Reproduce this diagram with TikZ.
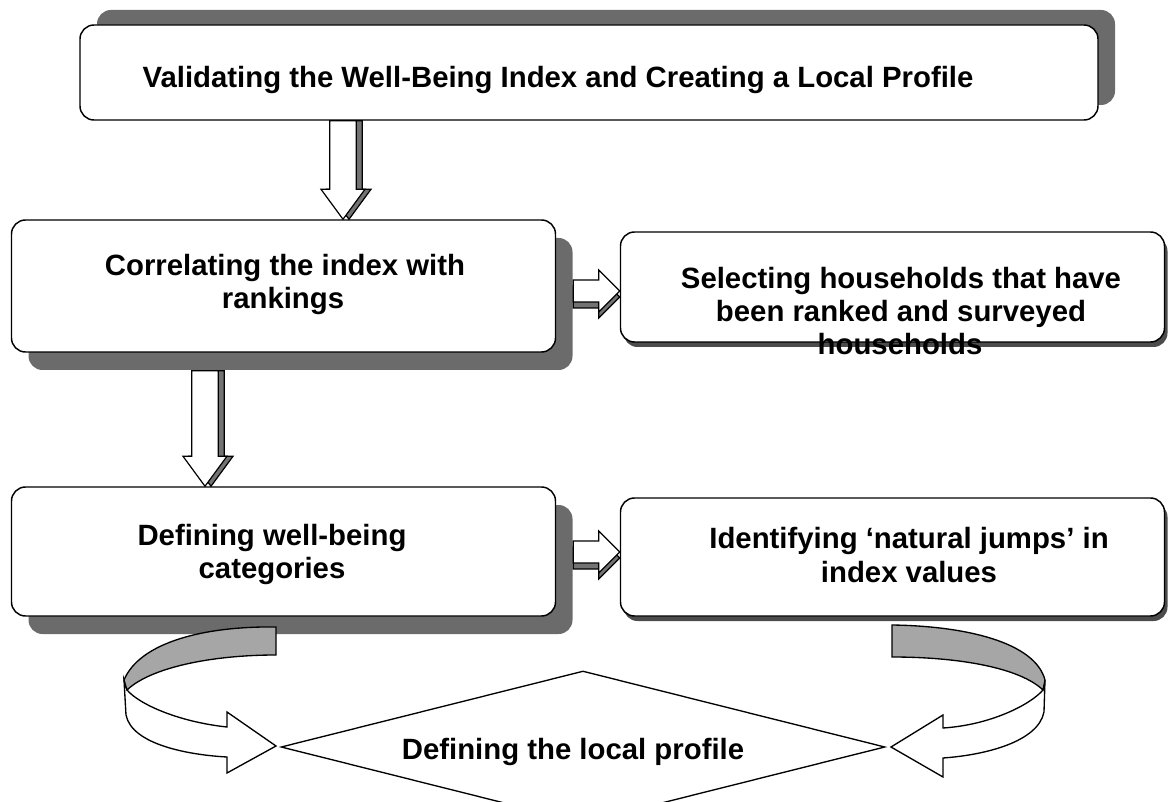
\documentclass[tikz,border=0pt]{standalone}
\usepackage{fontspec}
\setmainfont{Liberation Sans}
\usetikzlibrary{calc,shapes.geometric,shadows}

% vertical block arrow: #1 start, #2 tip, #3 x offset, #4 path options
\newcommand\vpoly[4]{%
  \path[#4] let \p1=#1, \p2=#2 in
    (\x1-10pt+#3,\y1) -- (\x1-10pt+#3,\y2+22.5pt) -- (\x1-16.5pt+#3,\y2+22.5pt)
    -- (\x1+#3,\y2) -- (\x1+16.5pt+#3,\y2+22.5pt) -- (\x1+10pt+#3,\y2+22.5pt)
    -- (\x1+10pt+#3,\y1) -- cycle;}
% horizontal block arrow: #1 start, #2 tip, #3 y offset, #4 path options
\newcommand\hpoly[4]{%
  \path[#4] let \p1=#1, \p2=#2 in
    ({\x1},{\y1+8.25pt+(#3)}) -- ({\x2-15.75pt},{\y1+8.25pt+(#3)})
    -- ({\x2-15.75pt},{\y1+15.75pt+(#3)}) -- ({\x2},{\y1+(#3)})
    -- ({\x2-15.75pt},{\y1-15.75pt+(#3)}) -- ({\x2-15.75pt},{\y1-8.25pt+(#3)})
    -- ({\x1},{\y1-8.25pt+(#3)}) -- cycle;}

\tikzset{
  box/.style={draw=black, line width=1.1pt, rounded corners=10.5pt, fill=white,
    inner sep=0pt, minimum width=408pt},
  bigshadow/.style={drop shadow={shadow xshift=12.75pt, shadow yshift=-13.5pt,
    fill=black!58, opacity=1}},
  thinshadow/.style={drop shadow={shadow xshift=2.25pt, shadow yshift=-3.75pt,
    fill=black!70, opacity=1}},
  txt/.style={font=\fontsize{22}{26}\selectfont\bfseries, inner sep=0pt, anchor=base},
  arrowbody/.style={draw=black, line width=0.9pt, fill=white, line join=miter},
  arrowside/.style={draw=black, line width=0.9pt, fill=black!55},
  ribbon/.style={draw=black, line width=1pt, fill=white},
  ribbonback/.style={draw=black, line width=1pt, fill=black!35},
}

\begin{document}
\begin{tikzpicture}[x=0.75pt,y=-0.75pt]
\useasboundingbox (0,0) rectangle (1168,802);
\clip (0,0) rectangle (1168,802);

% process boxes
\node[box, minimum width=763.5pt, minimum height=71.25pt,
  drop shadow={shadow xshift=12.75pt, shadow yshift=11.25pt, fill=black!58, opacity=1}]
  (valid) at (589,72.5) {};
\node[box, bigshadow, minimum height=99pt] (corr) at (283.5,286) {};
\node[box, thinshadow, minimum height=82.5pt] (select) at (892.5,287) {};
\node[box, bigshadow, minimum height=96.75pt] (cats) at (283.5,551.5) {};
\node[box, thinshadow, minimum height=88.5pt] (jumps) at (892.5,557) {};

% final step
\node[draw=black, line width=1pt, diamond, inner sep=0pt,
  minimum width=453pt, minimum height=114pt] (profile) at (583,747) {};

% positions of the block arrows
\coordinate (a1) at (343,0);
\coordinate (a3) at (205,0);
\coordinate (a2) at (0,291);
\coordinate (a4) at (0,552);

% block arrows between the boxes
\vpoly{(valid.south -| a1)}{(corr.north -| a1)}{4.5pt}{arrowside}
\vpoly{(valid.south -| a1)}{(corr.north -| a1)}{0pt}{arrowbody}
\vpoly{($(corr.south -| a3)+(0,18)$)}{(cats.north -| a3)}{4.5pt}{arrowside}
\vpoly{($(corr.south -| a3)+(0,18)$)}{(cats.north -| a3)}{0pt}{arrowbody}
\hpoly{($(corr.east |- a2)+(17,0)$)}{(select.west |- a2)}{-4.5pt}{arrowside}
\hpoly{($(corr.east |- a2)+(17,0)$)}{(select.west |- a2)}{0pt}{arrowbody}
\hpoly{($(cats.east |- a4)+(17,0)$)}{(jumps.west |- a4)}{-4.5pt}{arrowside}
\hpoly{($(cats.east |- a4)+(17,0)$)}{(jumps.west |- a4)}{0pt}{arrowbody}

% curved arrow from the categories box into the profile
\draw[ribbon] (124,680) -- (126,715) .. controls (132,745) and (190,755) .. (227,757)
  -- (227,773) -- (276,746) -- (227,712) -- (227,727)
  .. controls (180,722) and (140,705) .. (127,690) -- cycle;
\draw[ribbonback] (276,627) .. controls (205,626) and (140,642) .. (124,680)
  -- (127,690) .. controls (150,668) and (210,655) .. (276,655) -- cycle;

% curved arrow from the jumps box into the profile
\draw[ribbon] (1045,680) -- (1044,712) .. controls (1038,742) and (985,755) .. (943,758)
  -- (943,777) -- (891,747) -- (943,715) -- (943,728)
  .. controls (990,725) and (1030,705) .. (1043,690) -- cycle;
\draw[ribbonback] (892,625) .. controls (965,626) and (1035,642) .. (1045,680)
  -- (1043,690) .. controls (1020,668) and (960,657) .. (892,657) -- cycle;

% labels
\node[txt] (valid-t) at (558,88) {Validating the Well-Being Index and Creating a Local Profile};
\node[txt] (corr-t1) at (285,276) {Correlating the index with};
\node[txt] (corr-t2) at (283,309) {rankings};
\node[txt] (select-t1) at (901,289) {Selecting households that have};
\node[txt] (select-t2) at (901,322) {been ranked and surveyed};
\node[txt] (select-t3) at (900,355) {households};
\node[txt] (cats-t1) at (272,545) {Defining well-being};
\node[txt] (cats-t2) at (272,578) {categories};
\node[txt] (jumps-t1) at (909,548) {Identifying ‘natural jumps’ in};
\node[txt] (jumps-t2) at (909,582) {index values};
\node[txt] (profile-t) at (573,759) {Defining the local profile};
\end{tikzpicture}
\end{document}
